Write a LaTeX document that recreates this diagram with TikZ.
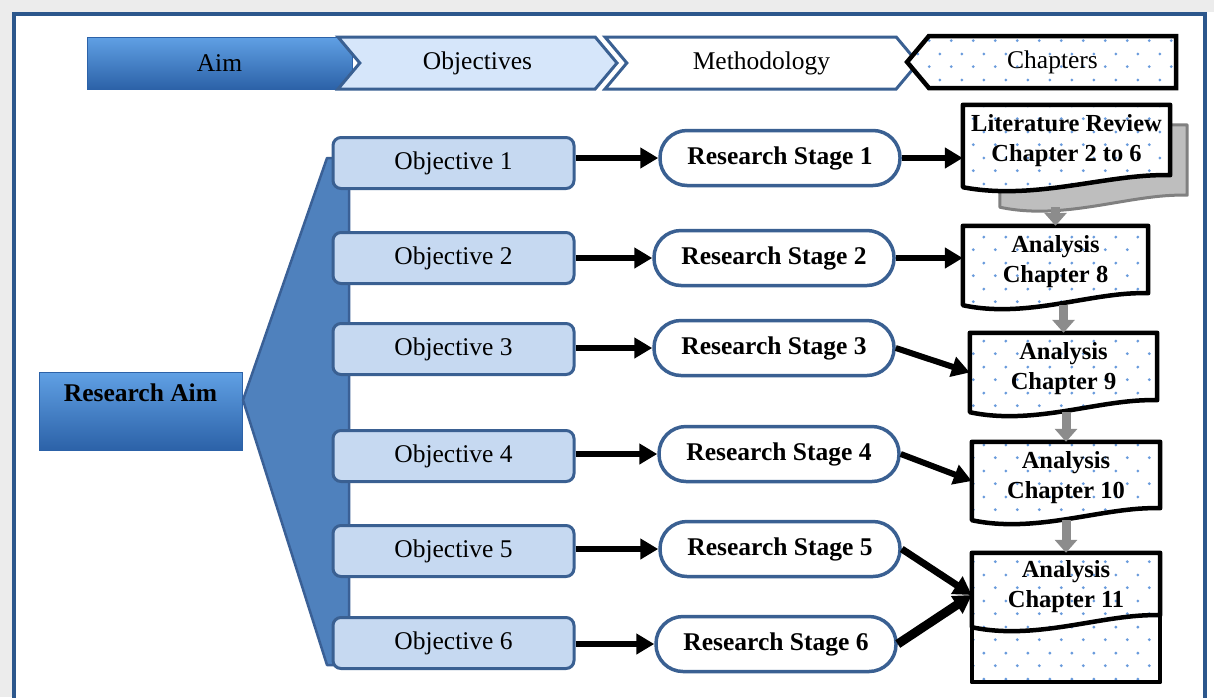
\documentclass[tikz,border=0pt]{standalone}
\usepackage{fontspec}
\setmainfont{Liberation Serif}
\usepackage{tikz}
\usetikzlibrary{shapes.symbols, arrows.meta, calc, backgrounds, patterns.meta}
\definecolor{frameblue}{RGB}{44,87,140}
\definecolor{aimtop}{RGB}{96,160,228}
\definecolor{aimbot}{RGB}{44,98,168}
\definecolor{objfill}{RGB}{198,217,241}
\definecolor{objdraw}{RGB}{58,96,146}
\definecolor{hdrfill}{RGB}{214,230,250}
\definecolor{fanfill}{RGB}{79,129,189}
\definecolor{fandraw}{RGB}{58,96,150}
\definecolor{dotblue}{RGB}{105,155,220}
\definecolor{shadowgray}{RGB}{190,190,190}
\definecolor{shadowdraw}{RGB}{128,128,128}
\definecolor{grayarrow}{RGB}{140,140,140}
\newcommand\txtsize{\fontsize{25.5pt}{30pt}\selectfont}
\newcommand\chapsize{\fontsize{24.5pt}{30pt}\selectfont}
\tikzdeclarepattern{
	name=chapdots,
	type=uncolored,
	bounding box={(0pt,0pt) and (22pt,26pt)},
	tile size={(22pt,26pt)},
	code={
		\fill (5.5pt,6.5pt) circle [radius=1.6pt];
		\fill (16.5pt,19.5pt) circle [radius=1.6pt];
	}
}
% document outline with a wavy bottom, drawn round a named node
\newcommand\docoutline[2]{%
	\path[#2] (#1.north west) -- (#1.north east) -- ($(#1.south east)+(0,-12)$)
		.. controls ($(#1.south east)!0.3!(#1.south west)+(0,-14)$) and ($(#1.south west)!0.35!(#1.south east)+(0,14)$) .. (#1.south west) -- cycle;}
\tikzset{
	hdr/.style     ={signal, signal pointer angle=100, minimum height=52pt, inner sep=0pt, line width=3pt, draw=objdraw},
	aimshade/.style={rectangle, top color=aimtop, bottom color=aimbot, draw=aimbot, line width=1pt},
	dotfill/.style ={preaction={fill=white}, pattern=chapdots, pattern color=dotblue},
	objbox/.style  ={rectangle, rounded corners=8pt, draw=objdraw, line width=3pt, fill=objfill, minimum width=241pt, minimum height=51pt},
	stagebox/.style={rectangle, rounded corners=27pt, draw=objdraw, line width=3.5pt, fill=white, minimum width=240pt, minimum height=55pt, font=\txtsize\bfseries},
	chapbox/.style ={rectangle, inner sep=0pt, align=center, font=\chapsize\bfseries, execute at end node={\rule[-13pt]{0pt}{0pt}}},
	docline/.style ={draw=black, line width=4.5pt, line join=round, dotfill},
	fan/.style     ={fill=fanfill, draw=fandraw, line width=2.5pt, line join=round},
	flow/.style    ={line width=6pt, -{Triangle[length=18pt,width=20pt]}},
	chapflow/.style={line width=9pt, draw=grayarrow, -{Triangle[length=13pt,width=22pt]}},
}
\begin{document}
\begin{tikzpicture}[x=1pt, y=-1pt, font=\txtsize]
	\useasboundingbox (0,0) rectangle (1214,697);
	% page and frame
	\begin{scope}[on background layer]
		\fill[gray!15] (0,0) rectangle (1214,697);
		\fill[white] (12,12) rectangle (1214,697);
		\draw[frameblue, line width=4pt] (14,14) rectangle (1205,720);
	\end{scope}
	% header chevrons
	\node[hdr, signal to=east, aimshade, minimum width=265pt] (hAim) at (219.5,63) {Aim};
	\node[hdr, signal to=east, signal from=west, fill=hdrfill, minimum width=279pt] (hObj) at (477.5,63) {Objectives};
	\node[hdr, signal to=east, signal from=west, fill=white, minimum width=313pt] (hMeth) at (761.5,63) {Methodology};
	\node[hdr, signal to=west, draw=black, line width=4.5pt, dotfill, minimum width=269pt] (hChap) at (1052.5,62) {\raisebox{-10pt}{Chapters}};
	% aim and fan
	\node[aimshade, minimum width=203pt, minimum height=78pt, text depth=36pt, font=\txtsize\bfseries] (aim) at (140.5,411) {Research Aim};
	\filldraw[fan] (243,400) -- (327,158) -- (349,158) -- (349,665) -- (327,665) -- cycle;
	% objectives and stages
	\foreach \i/\yy in {1/163, 2/258, 3/349, 4/456, 5/551, 6/643}
	\node[objbox] (obj\i) at (453.5,\yy) {Objective \i};
	\foreach \i/\xx/\yy in {1/780/158, 2/774/258, 3/774/348, 4/779/454, 5/780/549, 6/776/644}
	\node[stagebox] (stg\i) at (\xx,\yy) {Research Stage \i};
	% chapters
	\node[chapbox, minimum width=187pt, minimum height=82pt] (chap1back) at (1093.5,166) {};
	\node[chapbox, minimum width=207pt, minimum height=82pt, execute at end node={\rule[-16pt]{0pt}{0pt}}] (chap1) at (1066.5,146) {Literature Review\\Chapter 2 to 6};
	\node[chapbox, minimum width=185pt, minimum height=79pt] (chap2) at (1055.5,265.5) {Analysis\\Chapter 8};
	\node[chapbox, minimum width=187pt, minimum height=79pt] (chap3) at (1063.5,372.5) {Analysis\\Chapter 9};
	\node[chapbox, minimum width=188pt, minimum height=78pt, execute at end node={}] (chap4) at (1066,481) {Analysis\\Chapter 10};
	\node[chapbox, minimum width=188pt, minimum height=74pt, execute at end node={\rule[-1pt]{0pt}{0pt}\rule{0pt}{0pt}}] (chap5) at (1066,590) {Analysis\\Chapter 11};
	\begin{scope}[on background layer]
		\docoutline{chap1back}{fill=shadowgray, draw=shadowdraw, line width=3pt, line join=round}
		\docoutline{chap1}{docline}
		\docoutline{chap2}{docline}
		\docoutline{chap3}{docline}
		\docoutline{chap4}{docline}
		\path[docline] (chap5.north west) rectangle ($(chap5.south east)+(0,55)$);
		\docoutline{chap5}{docline}
	\end{scope}
	% connectors
	\foreach \i in {1,...,6}
	\draw[flow] (obj\i.east |- stg\i.west) -- (stg\i.west);
	\draw[flow] (stg1.east) -- (stg1.east -| chap1.west);
	\draw[flow] (stg2.east) -- (stg2.east -| chap2.west);
	\draw[flow] (stg3.east) -- (chap3.west);
	\draw[flow] (stg4.east) -- (chap4.west);
	\coordinate (meet) at ($(chap5.west)+(0,5)$);
	\draw[flow, line width=7pt] (stg5.east) -- (meet);
	\draw[flow, line width=9pt] (stg6.east) -- (meet);
	\draw[chapflow] (chap1back.south -| chap2.north) -- (chap2.north);
	\draw[chapflow] (chap2.south -| chap3.north) -- (chap3.north);
	\draw[chapflow] (chap3.south -| chap4.north) -- (chap4.north);
	\draw[chapflow] (chap4.south -| chap5.north) -- (chap5.north);
\end{tikzpicture}
\end{document}
